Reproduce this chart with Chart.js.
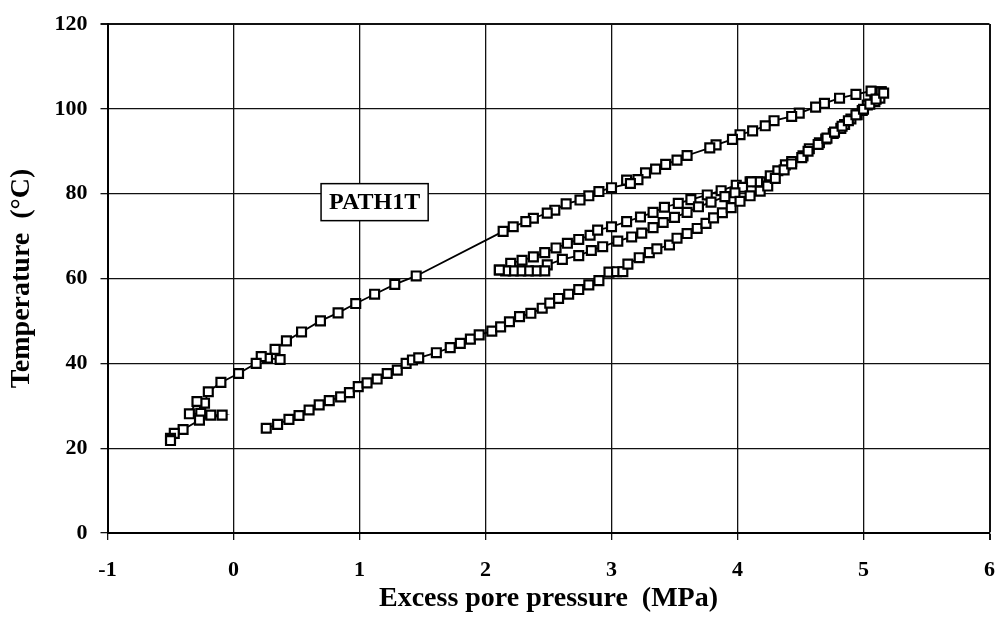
<!DOCTYPE html>
<html>
<head>
<meta charset="utf-8">
<title>PATH1T</title>
<script src="https://cdn.jsdelivr.net/npm/chart.js@4.4.1/dist/chart.umd.min.js"></script>
<style>
  html, body { margin: 0; padding: 0; background: #fff; }
  #wrap { width: 998px; height: 621px; }
</style>
</head>
<body>
<div id="wrap"><canvas id="chart" width="998" height="621"></canvas></div>
<script>
// axis ticks
const xTicks = [-1, 0, 1, 2, 3, 4, 5, 6]
const yTicks = [0, 20, 40, 60, 80, 100, 120]

// first heating, lower branch
const heatX = [0.26, 0.35, 0.44, 0.52, 0.60, 0.68, 0.76, 0.85, 0.92, 0.99, 1.06, 1.14, 1.22, 1.30, 1.37, 1.42, 1.47, 1.61, 1.72, 1.80, 1.88, 1.95, 2.05, 2.12, 2.19, 2.27, 2.36, 2.45, 2.51, 2.58, 2.66, 2.74, 2.82, 2.90, 2.98, 3.04, 3.09, 3.13, 3.22, 3.30, 3.36, 3.46, 3.52, 3.60, 3.68, 3.75, 3.81, 3.88, 3.95, 4.02, 4.10, 4.18, 4.24, 4.30, 4.37, 4.43, 4.51, 4.56, 4.64, 4.71, 4.77, 4.83, 4.88, 4.94, 5.00, 5.05, 5.10, 5.16]
const heatY = [24.7, 25.6, 26.8, 27.7, 29.0, 30.2, 31.2, 32.1, 33.1, 34.5, 35.4, 36.3, 37.6, 38.4, 40.0, 40.8, 41.3, 42.5, 43.7, 44.7, 45.7, 46.7, 47.6, 48.6, 49.8, 51.0, 51.8, 53.0, 54.2, 55.3, 56.3, 57.4, 58.5, 59.5, 61.5, 61.6, 61.6, 63.4, 64.9, 66.1, 67.0, 67.9, 69.5, 70.6, 71.8, 73.0, 74.3, 75.5, 76.7, 78.2, 79.5, 80.6, 81.8, 83.6, 85.6, 87.0, 88.5, 90.0, 91.6, 93.1, 94.5, 95.9, 97.2, 98.6, 99.9, 101.1, 102.3, 103.7]

// cooling back to 62 (lower middle branch)
const coolMidX = [4.16, 4.11, 4.04, 3.98, 3.90, 3.79, 3.69, 3.60, 3.50, 3.41, 3.33, 3.24, 3.16, 3.05, 2.93, 2.84, 2.74, 2.61, 2.49, 2.47, 2.40, 2.34, 2.28, 2.22, 2.16, 2.11]
const coolMidY = [82.8, 82.8, 81.5, 80.2, 79.3, 78.0, 76.9, 75.6, 74.4, 73.2, 72.0, 70.7, 69.8, 68.8, 67.5, 66.6, 65.4, 64.5, 63.2, 61.8, 61.8, 61.8, 61.8, 61.8, 61.8, 62.0]

// reheating (upper middle branch) to 104
const reheatX = [2.11, 2.20, 2.29, 2.38, 2.47, 2.56, 2.65, 2.74, 2.83, 2.89, 3.00, 3.12, 3.23, 3.33, 3.42, 3.53, 3.63, 3.76, 3.87, 3.99, 4.10, 4.18, 4.26, 4.32, 4.38, 4.43, 4.52, 4.57, 4.65, 4.70, 4.76, 4.82, 4.85, 4.90, 4.95, 4.99, 5.03, 5.09, 5.13, 5.14]
const reheatY = [62.0, 63.6, 64.3, 65.1, 66.1, 67.2, 68.3, 69.2, 70.2, 71.4, 72.2, 73.4, 74.5, 75.6, 76.8, 77.7, 78.6, 79.7, 80.7, 82.0, 82.8, 82.8, 84.2, 85.4, 86.8, 87.6, 88.9, 90.6, 92.0, 92.9, 94.2, 95.4, 96.3, 97.6, 98.6, 99.6, 100.9, 101.7, 102.5, 104.0]

// final cooling, upper branch
const coolX = [5.14, 5.06, 4.94, 4.81, 4.69, 4.62, 4.49, 4.43, 4.29, 4.22, 4.12, 4.02, 3.96, 3.83, 3.78, 3.60, 3.52, 3.43, 3.35, 3.27, 3.21, 3.12, 3.15, 3.00, 2.90, 2.82, 2.75, 2.64, 2.55, 2.49, 2.38, 2.32, 2.22, 2.14, 1.45, 1.28, 1.12, 0.97, 0.83, 0.69, 0.54, 0.42, 0.33, 0.37, 0.27, 0.22, 0.18, 0.04, -0.10, -0.20, -0.23, -0.29, -0.35, -0.26, -0.18, -0.09, -0.27, -0.40, -0.47, -0.50, -0.50]
const coolY = [104.0, 104.2, 103.4, 102.5, 101.3, 100.4, 99.0, 98.2, 97.2, 96.0, 94.8, 93.9, 92.8, 91.5, 90.8, 89.0, 87.9, 86.9, 85.8, 84.9, 83.3, 83.2, 82.4, 81.4, 80.5, 79.5, 78.5, 77.6, 76.1, 75.4, 74.2, 73.4, 72.2, 71.1, 60.6, 58.6, 56.3, 54.1, 51.9, 50.0, 47.4, 45.3, 43.3, 40.9, 41.2, 41.6, 40.0, 37.6, 35.5, 33.3, 30.6, 31.0, 28.1, 28.2, 27.8, 27.8, 26.6, 24.4, 23.5, 22.3, 21.8]

const labelText = 'PATH1T'
const labelAt = { x: 1.12, y: 78 }

const serif = "'Liberation Serif', 'Times New Roman', serif"

function toPoints(xs, ys) {
    return xs.map((x, i) => ({ x: x, y: ys[i] }))
}

function pathSet(xs, ys) {
    return {
        data: toPoints(xs, ys),
        showLine: true,
        borderColor: '#000',
        borderWidth: 1.8,
        pointStyle: 'rect',
        pointRadius: 6.3,
        pointBorderWidth: 2.2,
        pointBackgroundColor: '#fff',
        pointBorderColor: '#000'
    }
}

// label box sitting on the plot
const labelBox = {
    id: 'labelBox',
    afterDatasetsDraw(chart) {
        const ctx = chart.ctx
        const cx = chart.scales.x.getPixelForValue(labelAt.x)
        const cy = chart.scales.y.getPixelForValue(labelAt.y)
        ctx.save()
        ctx.font = 'bold 24px ' + serif
        const w = ctx.measureText(labelText).width + 16
        const h = 37
        ctx.fillStyle = '#fff'
        ctx.fillRect(cx - w / 2, cy - h / 2, w, h)
        ctx.strokeStyle = '#000'
        ctx.lineWidth = 1.5
        ctx.strokeRect(cx - w / 2, cy - h / 2, w, h)
        ctx.fillStyle = '#000'
        ctx.textAlign = 'center'
        ctx.textBaseline = 'middle'
        ctx.fillText(labelText, cx, cy + 1)
        ctx.restore()
    }
}

let ctx = document.getElementById('chart').getContext('2d')
let chart = new Chart(ctx, {
    type: 'scatter',
    data: {
        datasets: [
            pathSet(heatX, heatY),
            pathSet(coolMidX, coolMidY),
            pathSet(reheatX, reheatY),
            pathSet(coolX, coolY)
        ]
    },
    options: {
        responsive: false,
        animation: false,
        devicePixelRatio: 1,
        layout: { padding: { top: 24, right: 6, left: 0, bottom: 0 } },
        plugins: {
            legend: { display: false },
            tooltip: { enabled: false }
        },
        scales: {
            x: {
                type: 'linear',
                min: -1,
                max: 6,
                afterFit: s => { s.height = 88; s.paddingLeft = 0; s.paddingRight = 0 },
                afterBuildTicks: s => { s.ticks = xTicks.map(v => ({ value: v })) },
                grid: {
                    color: '#111',
                    lineWidth: c => (c.tick && c.tick.value === 6 ? 2 : 1.3),
                    tickLength: 7,
                    drawTicks: true
                },
                border: { color: '#000', width: 2 },
                ticks: {
                    color: '#000',
                    padding: 17,
                    maxRotation: 0,
                    font: { family: serif, size: 22, weight: 'bold' }
                },
                title: {
                    display: true,
                    text: 'Excess pore pressure  (MPa)',
                    color: '#000',
                    padding: { top: 0, bottom: 5 },
                    font: { family: serif, size: 28, weight: 'bold' }
                }
            },
            y: {
                type: 'linear',
                min: 0,
                max: 120,
                afterFit: s => { s.width = 107.5; s.paddingTop = 0; s.paddingBottom = 0 },
                afterBuildTicks: s => { s.ticks = yTicks.map(v => ({ value: v })) },
                grid: {
                    color: '#111',
                    lineWidth: c => (c.tick && c.tick.value === 120 ? 2 : 1.3),
                    tickLength: 7,
                    drawTicks: true
                },
                border: { color: '#000', width: 2 },
                ticks: {
                    color: '#000',
                    padding: 13,
                    font: { family: serif, size: 22, weight: 'bold' }
                },
                title: {
                    display: true,
                    text: 'Temperature  (\u00B0C)',
                    color: '#000',
                    padding: { top: 5, bottom: 0 },
                    font: { family: serif, size: 28, weight: 'bold' }
                }
            }
        }
    },
    plugins: [labelBox]
})
</script>
</body>
</html>
